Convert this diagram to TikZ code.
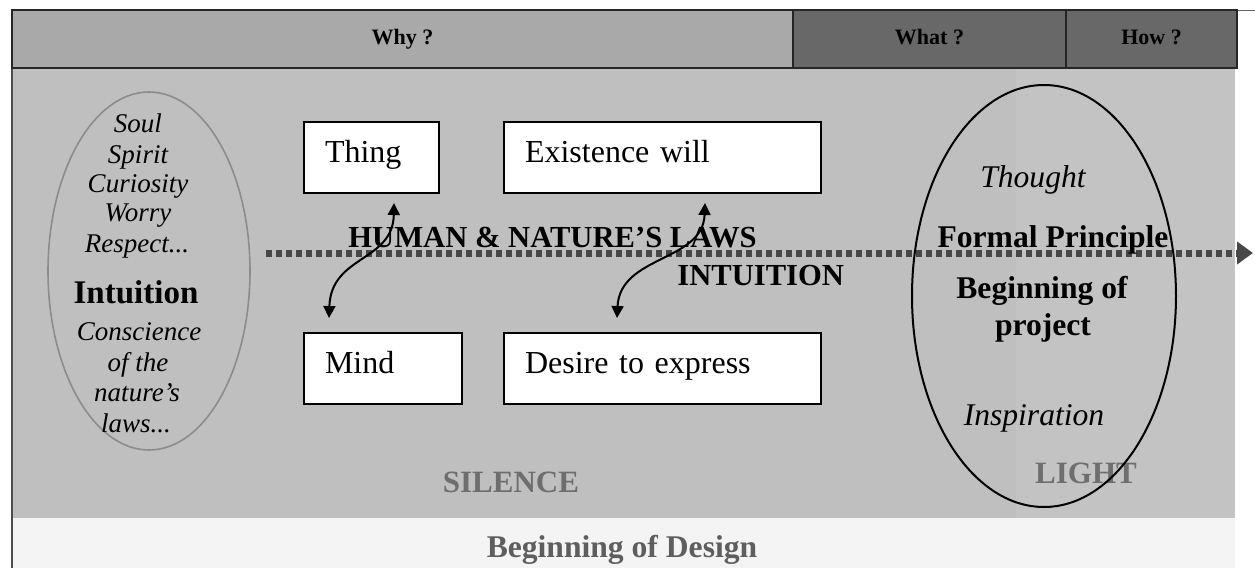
\documentclass[tikz,border=0pt]{standalone}
\usepackage{fontspec}
\setmainfont{Liberation Serif}
\usetikzlibrary{arrows.meta,shapes.geometric}
\definecolor{barlight}{HTML}{A9A9A9}
\definecolor{bardark}{HTML}{686868}
\definecolor{mainbg}{HTML}{BFBFBF}
\definecolor{bandbg}{HTML}{C3C3C3}
\definecolor{bottombg}{HTML}{F4F4F4}
\definecolor{dotcol}{HTML}{474747}
\definecolor{softtxt}{HTML}{6E6E6E}
\definecolor{bottomtxt}{HTML}{5E5E5E}
\begin{document}
\begin{tikzpicture}[x=0.5pt,y=-0.5pt,
  barcell/.style={draw=black!85, line width=1pt, rectangle, minimum height=29pt, inner sep=0pt,
    text height=8pt, text depth=2.5pt,
    font=\bfseries\fontsize{11}{13}\selectfont},
  wordbox/.style={draw=black, fill=white, line width=1pt, rectangle, align=left,
    inner xsep=10.5pt, minimum height=35.5pt, text height=11pt, text depth=6pt,
    font=\fontsize{16}{19}\selectfont},
  ltxt/.style={anchor=base, inner sep=0pt, font=\itshape\fontsize{13.5}{16}\selectfont},
  ibold/.style={anchor=base, inner sep=0pt, font=\bfseries\fontsize{16.5}{19}\selectfont},
  rital/.style={anchor=base, inner sep=0pt, font=\itshape\fontsize{15.8}{18}\selectfont},
  rbold/.style={anchor=base, inner sep=0pt, font=\bfseries\fontsize{15.8}{18}\selectfont},
  lawlabel/.style={anchor=base west, inner sep=0pt, font=\bfseries\fontsize{15.3}{18}\selectfont},
  graylabel/.style={anchor=base, inner sep=0pt, text=softtxt, font=\bfseries\fontsize{15.5}{18}\selectfont},
  curvearrow/.style={line width=1pt, {Triangle[length=6pt,width=6pt]}-{Triangle[length=6pt,width=6pt]}},
  dotarrow/.style={line width=3.5pt, draw=dotcol, dash pattern=on 3pt off 2pt,
    -{Triangle[length=8pt,width=11pt]}}
]
\useasboundingbox (0,0) rectangle (1255,568);
\fill[white] (0,0) rectangle (1255,568);
% backgrounds
\fill[mainbg] (12,68) rectangle (1235,518);
\fill[bandbg] (1016,68) rectangle (1235,518);
\fill[bottombg] (12,518) rectangle (1235,568);
\draw[line width=0.5pt, black!60] (1237,10) -- (1255,10);
\draw[line width=1pt, black!70] (12,10) -- (12,568);

% top bar
\node[barcell, fill=barlight, minimum width=390.5pt] (why) at (402.5,39) {Why ?};
\node[barcell, fill=bardark, minimum width=136.5pt] (what) at (929.5,39) {What ?};
\node[barcell, fill=bardark, minimum width=85.5pt] (how) at (1151.5,39) {How ?};

% dotted arrow
\coordinate (dstart) at (266,253);
\coordinate (dend) at (1253,253);
\draw[dotarrow] (dstart) -- (dend);

% left ellipse and its words
\node[draw=black!45, line width=0.8pt, ellipse, minimum width=101pt, minimum height=179pt, inner sep=0pt] (lell) at (149,271) {};
\node[ltxt] (l1) at (138,132) {Soul};
\node[ltxt] (l2) at (138,163) {Spirit};
\node[ltxt] (l3) at (138,192) {Curiosity};
\node[ltxt] (l4) at (138,221) {Worry};
\node[ltxt] (l5) at (137,252) {Respect...};
\node[ibold] (l6) at (136,303) {Intuition};
\node[ltxt] (l7) at (139,340) {Conscience};
\node[ltxt] (l8) at (138,371) {of the};
\node[ltxt] (l9) at (137,401) {nature’s};
\node[ltxt] (l10) at (136,432) {laws...};

% central labels
\node[lawlabel] (hum) at (348,247) {HUMAN \& NATURE’S LAWS};
\node[lawlabel] (intu) at (677,285) {INTUITION};

% right ellipse words
\node[graylabel] (light) at (1086,483) {LIGHT};
\node[rital] (r1) at (1033,187) {Thought};
\node[rbold] (r2) at (1053,247) {Formal Principle};
\node[rbold] (r3) at (1042,298) {Beginning of};
\node[rbold] (r4) at (1043,335) {project};
\node[rital] (r5) at (1034,425) {Inspiration};
\node[draw=black, line width=1pt, ellipse, minimum width=132pt, minimum height=211pt, inner sep=0pt] (rell) at (1044,296) {};

% bottom labels
\node[graylabel] (silence) at (511,492) {SILENCE};
\node[graylabel, text=bottomtxt, font=\bfseries\fontsize{15.8}{18}\selectfont] (bod) at (622,557) {Beginning of Design};

% boxes
\node[wordbox, text width=46.5pt] (thing) at (371.5,157.5) {Thing};
\node[wordbox, text width=137.5pt] (exist) at (662.5,157.5) {Existence will};
\node[wordbox, text width=58pt] (mind) at (383,368.5) {Mind};
\node[wordbox, text width=137.5pt] (desire) at (662.5,368.5) {Desire to express};

% curved double arrows
\coordinate (a1t) at (394,203);
\coordinate (a1b) at (329,318);
\coordinate (a2t) at (705,203);
\coordinate (a2b) at (617,318);
\draw[curvearrow] (a1b) .. controls (331,255) and (393,262) .. (a1t);
\draw[curvearrow] (a2b) .. controls (620,255) and (703,262) .. (a2t);
\end{tikzpicture}
\end{document}
